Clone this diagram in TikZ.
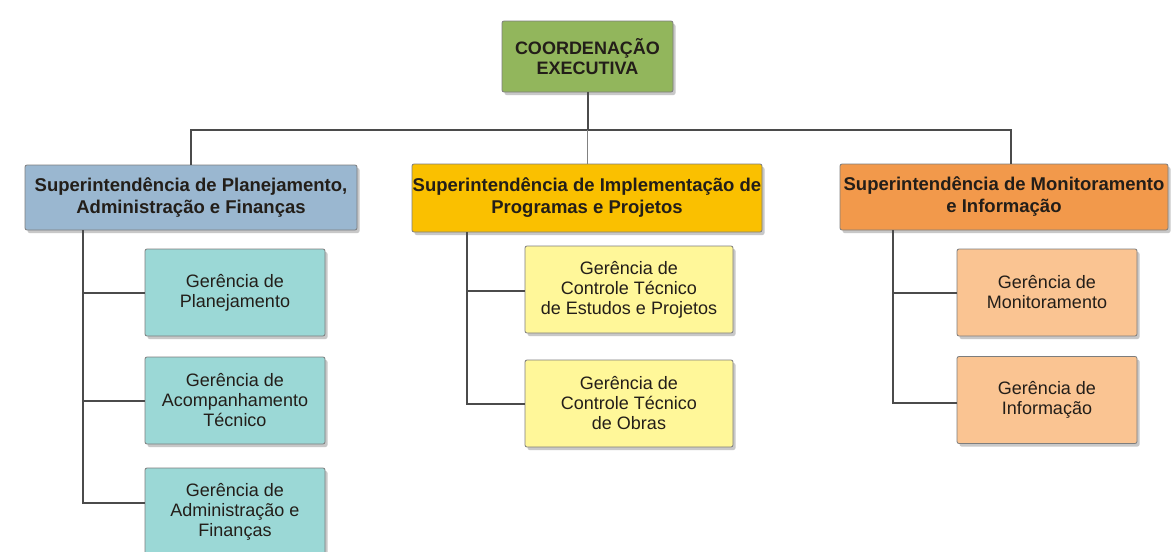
\documentclass[tikz,border=0pt]{standalone}
\usepackage{fontspec}
\setmainfont{Liberation Sans}
\usetikzlibrary{shadows}
\definecolor{cTop}{RGB}{146,182,92}
\definecolor{cSupA}{RGB}{154,183,208}
\definecolor{cSupB}{RGB}{250,192,0}
\definecolor{cSupC}{RGB}{242,153,75}
\definecolor{cGerA}{RGB}{155,216,214}
\definecolor{cGerB}{RGB}{255,247,153}
\definecolor{cGerC}{RGB}{250,196,146}
\definecolor{cLine}{RGB}{75,75,75}
\definecolor{cBorder}{RGB}{125,125,125}
\definecolor{cText}{RGB}{35,30,25}
\tikzset{
  box/.style={draw=cBorder, line width=0.8pt, rounded corners=2pt, inner sep=0pt,
    align=center, text=cText,
    drop shadow={shadow xshift=2.5pt, shadow yshift=-3pt, opacity=0.3, fill=black!70}},
  topbox/.style={box, fill=cTop, minimum width=171pt, minimum height=71pt,
    font=\fontsize{18}{20}\selectfont\bfseries},
  supbox/.style={box, minimum height=66pt,
    font=\fontsize{18.5}{22}\selectfont\bfseries},
  gerbox/.style={box, minimum height=87pt, font=\fontsize{18}{20}\selectfont},
  conn/.style={draw=cLine, line width=2pt}
}
\begin{document}
\begin{tikzpicture}[x=1pt, y=-1pt]
\useasboundingbox (0,0) rectangle (1171,552);
\clip (0,0) rectangle (1171,552);
\fill[white] (0,0) rectangle (1171,552);

% top
\node[topbox] (top) at (587.5,56.5) {COORDENAÇÃO\\EXECUTIVA};

% superintendencias
\node[supbox, fill=cSupA, minimum width=332pt, minimum height=65pt] (sup1) at (191,197.5)
  {Superintendência de Planejamento,\\Administração e Finanças};
\node[supbox, fill=cSupB, minimum width=350pt, minimum height=68pt] (sup2) at (587,198)
  {Superintendência de Implementação de\\Programas e Projetos};
\node[supbox, fill=cSupC, minimum width=328pt] (sup3) at (1004,197)
  {Superintendência de Monitoramento\\e Informação};

% gerencias
\node[gerbox, fill=cGerA, minimum width=180pt] (g1) at (235,292.5) {Gerência de\\Planejamento};
\node[gerbox, fill=cGerA, minimum width=180pt] (g2) at (235,400.5) {Gerência de\\Acompanhamento\\Técnico};
\node[gerbox, fill=cGerA, minimum width=180pt] (g3) at (235,511.5) {Gerência de\\Administração e\\Finanças};

\node[gerbox, fill=cGerB, minimum width=208pt] (m1) at (629,289.5) {Gerência de\\Controle Técnico\\de Estudos e Projetos};
\node[gerbox, fill=cGerB, minimum width=208pt] (m2) at (629,403.5) {Gerência de\\Controle Técnico\\de Obras};

\node[gerbox, fill=cGerC, minimum width=180pt] (r1) at (1047,292.5) {Gerência de\\Monitoramento};
\node[gerbox, fill=cGerC, minimum width=180pt] (r2) at (1047,400) {Gerência de\\Informação};

% connectors top level
\coordinate (bl) at (191,130);
\coordinate (br) at (1011,130);
\draw[conn] (top.south) -- (top.south |- bl);
\draw[conn] (sup1.north) -- (bl) -- (br) -- (br |- sup3.north);
\draw[conn, line width=1pt, draw=cLine!70] (bl -| sup2.north) -- (sup2.north);

% left trunk
\coordinate (lt) at (83,230);
\draw[conn] (lt) |- (g1.west);
\draw[conn] (lt) |- (g2.west);
\draw[conn] (lt) |- ([yshift=8.5pt]g3.west);

% middle trunk
\coordinate (mt) at (467,232);
\draw[conn] (mt) |- ([yshift=-1.5pt]m1.west);
\draw[conn] (mt) |- (m2.west);

% right trunk
\coordinate (rt) at (893,230);
\draw[conn] (rt) |- (r1.west);
\draw[conn] (rt) |- ([yshift=-3pt]r2.west);
\end{tikzpicture}
\end{document}
